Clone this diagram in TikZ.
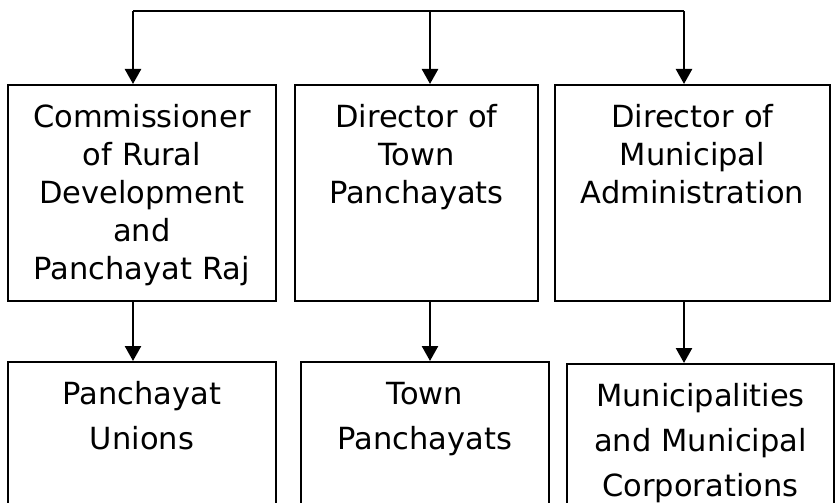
\documentclass[tikz,border=0pt]{standalone}
\usepackage{fontspec}
\setmainfont{DejaVu Sans}
\usetikzlibrary{arrows.meta}
\tikzset{
	box/.style={draw, line width=1.8pt, anchor=north west, inner sep=0pt, align=center, text height=43pt},
	upbox/.style={box, text depth=173pt, font=\fontsize{30.5}{38}\selectfont},
	lowbox/.style={box, text depth=140pt, font=\fontsize{30.5}{45}\selectfont},
	arr/.style={line width=2.5pt, -{Triangle[width=16pt,length=15pt]}}
}

\begin{document}
\begin{tikzpicture}[x=1pt,y=-1pt]
				\useasboundingbox (0,0) rectangle (835,503);
				
				\coordinate (t1) at (133,11);
				\coordinate (t2) at (430,11);
				\coordinate (t3) at (684,11);
				
				\node[upbox, text width=268pt] (cr) at (7,84) {Commissioner\\of Rural\\Development\\and\\Panchayat Raj};
				\node[upbox, text width=243pt] (dt) at (294,84) {Director of\\Town\\Panchayats};
				\node[upbox, text width=275pt] (dm) at (554,84) {Director of\\Municipal\\Administration};
				
				\node[lowbox, text width=268pt] (pu) at (7,361) {Panchayat\\Unions};
				\node[lowbox, text width=248pt] (tp) at (300,361) {Town\\Panchayats};
				\node[lowbox, text width=267pt] (mc) at (566,363) {Municipalities\\and Municipal\\Corporations};
				
				\draw[line width=2pt] (t1) -- (t3);
				\draw[arr] (t1) -- (t1 |- cr.north);
				\draw[arr] (t2) -- (t2 |- dt.north);
				\draw[arr] (t3) -- (t3 |- dm.north);
				
				\draw[arr] (t1 |- cr.south) -- (t1 |- pu.north);
				\draw[arr] (t2 |- dt.south) -- (t2 |- tp.north);
				\draw[arr] (t3 |- dm.south) -- (t3 |- mc.north);
			\end{tikzpicture}
\end{document}
